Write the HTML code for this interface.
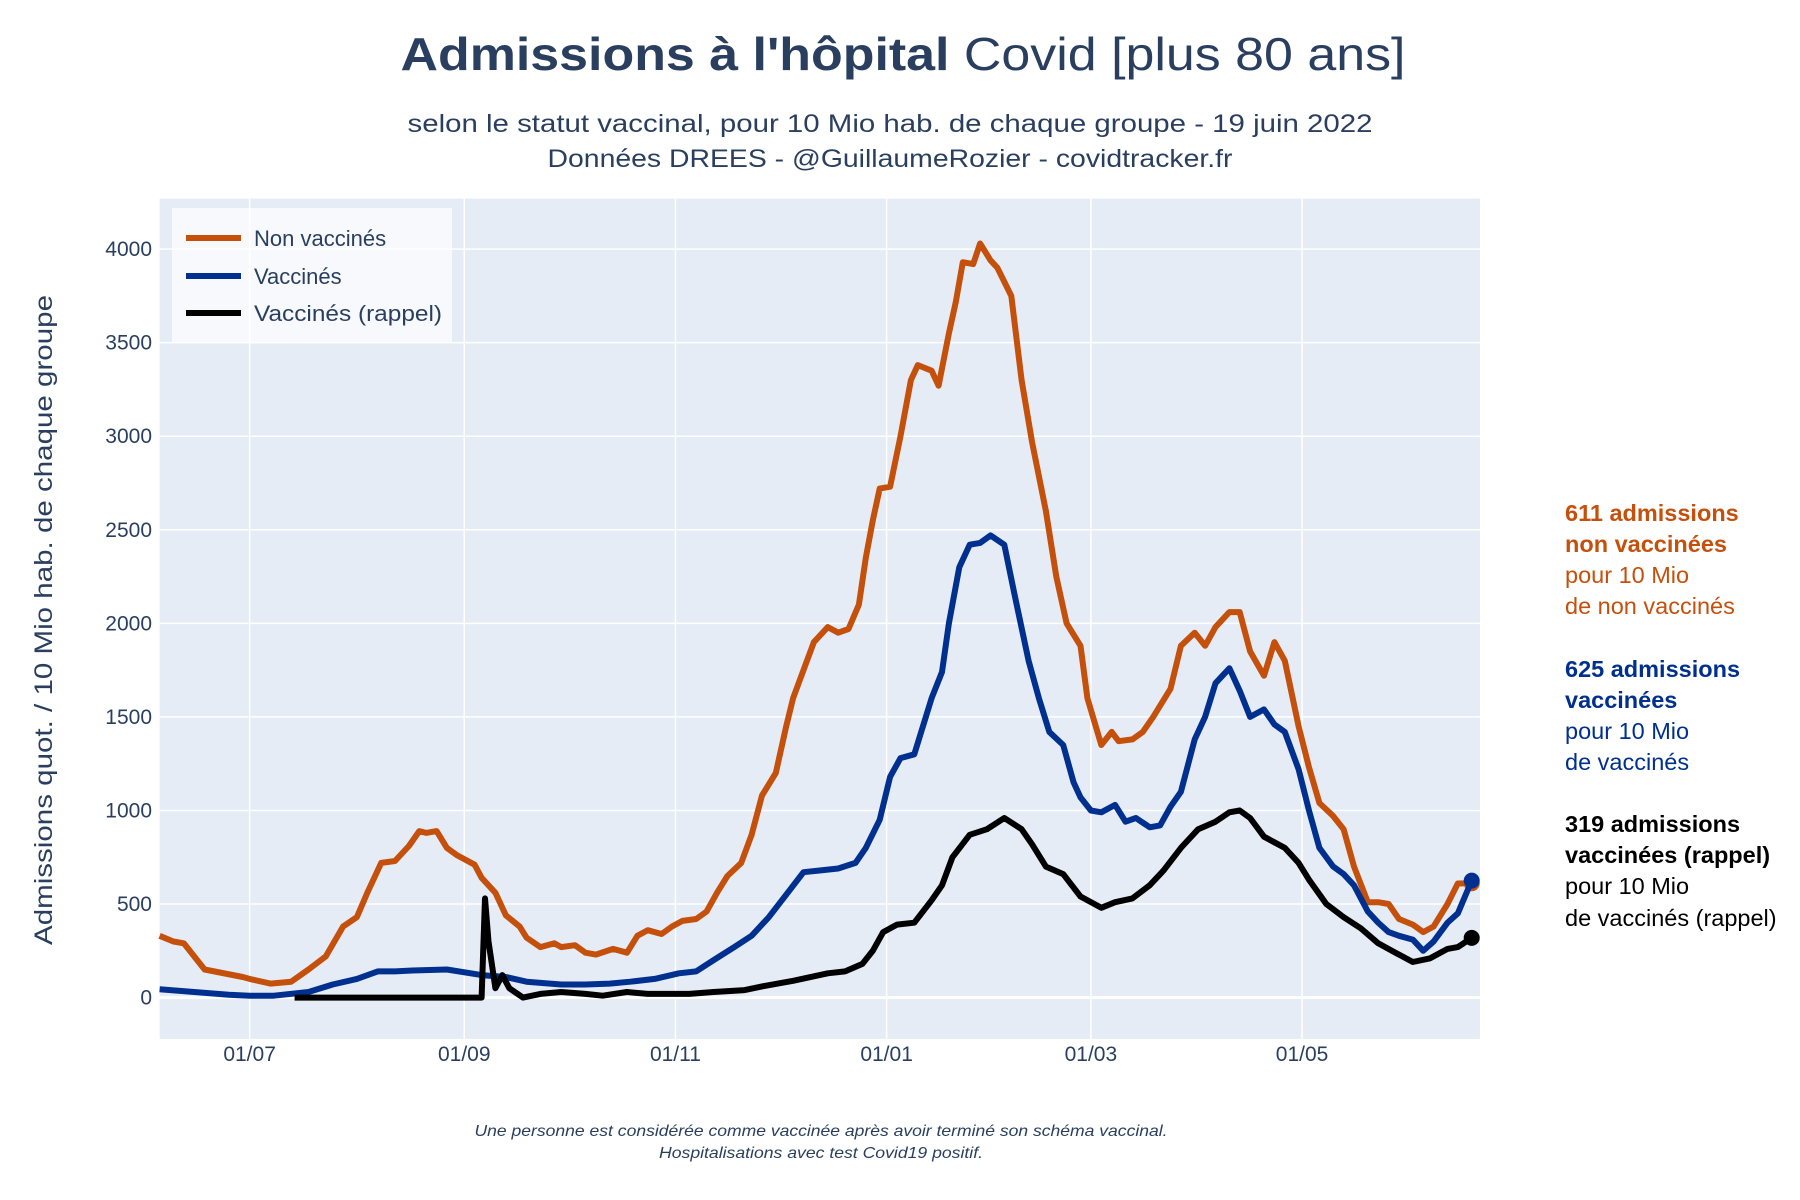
<!DOCTYPE html>
<html><head><meta charset="utf-8">
<style>
html,body{margin:0;padding:0;background:#fff;}
svg{display:block;font-family:"Liberation Sans",sans-serif;}
</style></head>
<body>
<svg id="chart" width="1800" height="1200" viewBox="0 0 1800 1200" xmlns="http://www.w3.org/2000/svg">
<rect width="1800" height="1200" fill="#fff"/>
<text x="903" y="70" text-anchor="middle" font-size="46" fill="#2a3f5f" textLength="1005" lengthAdjust="spacingAndGlyphs"><tspan font-weight="bold">Admissions à l'hôpital</tspan> Covid [plus 80 ans]</text>
<text x="890" y="132" text-anchor="middle" font-size="25" fill="#2a3f5f" textLength="965" lengthAdjust="spacingAndGlyphs">selon le statut vaccinal, pour 10 Mio hab. de chaque groupe - 19 juin 2022</text>
<text x="890" y="167" text-anchor="middle" font-size="25" fill="#2a3f5f" textLength="685" lengthAdjust="spacingAndGlyphs">Données DREES - @GuillaumeRozier - covidtracker.fr</text>
<g id="plot"></g>
<text transform="translate(52,620) rotate(-90)" text-anchor="middle" font-size="25" fill="#2a3f5f" textLength="650" lengthAdjust="spacingAndGlyphs">Admissions quot. / 10 Mio hab. de chaque groupe</text>
<g>
<rect x="172" y="208" width="280" height="134" fill="#fff" fill-opacity="0.7"/>
<line x1="186" y1="238" x2="241" y2="238" stroke="#c5500c" stroke-width="6"/>
<text x="254" y="246" font-size="22" fill="#2a3f5f">Non vaccinés</text>
<line x1="186" y1="276" x2="241" y2="276" stroke="#00308f" stroke-width="6"/>
<text x="254" y="284" font-size="22" fill="#2a3f5f">Vaccinés</text>
<line x1="186" y1="313" x2="241" y2="313" stroke="#000" stroke-width="6"/>
<text x="254" y="321" font-size="22" fill="#2a3f5f" textLength="188" lengthAdjust="spacingAndGlyphs">Vaccinés (rappel)</text>
</g>
<g font-size="23.5" fill="#c5500c">
<text x="1565" y="521" font-weight="bold">611 admissions</text>
<text x="1565" y="552" font-weight="bold">non vaccinées</text>
<text x="1565" y="583">pour 10 Mio</text>
<text x="1565" y="614">de non vaccinés</text>
</g>
<g font-size="23.5" fill="#00308f">
<text x="1565" y="677" font-weight="bold">625 admissions</text>
<text x="1565" y="708" font-weight="bold">vaccinées</text>
<text x="1565" y="739">pour 10 Mio</text>
<text x="1565" y="770">de vaccinés</text>
</g>
<g font-size="23.5" fill="#000">
<text x="1565" y="832" font-weight="bold">319 admissions</text>
<text x="1565" y="863" font-weight="bold">vaccinées (rappel)</text>
<text x="1565" y="894">pour 10 Mio</text>
<text x="1565" y="926">de vaccinés (rappel)</text>
</g>
<g font-size="16" font-style="italic" fill="#2a3f5f" text-anchor="middle">
<text x="821" y="1136" textLength="693" lengthAdjust="spacingAndGlyphs">Une personne est considérée comme vaccinée après avoir terminé son schéma vaccinal.</text>
<text x="821" y="1158" textLength="324" lengthAdjust="spacingAndGlyphs">Hospitalisations avec test Covid19 positif.</text>
</g>
</svg>
<script>
// day offsets from 2021-06-05
const xTickDays = [26, 88, 149, 210, 269, 330];
const xTickLabels = ["01/07", "01/09", "01/11", "01/01", "01/03", "01/05"];
const yTicks = [0, 500, 1000, 1500, 2000, 2500, 3000, 3500, 4000];
const nonVaxDays = [0,4,7,13,24,26,32,38,43,48,53,57,60,64,68,72,75,77,80,83,86,91,93,97,100,104,106,110,114,116,120,123,126,131,135,138,141,145,148,151,155,158,161,164,168,171,174,178,181,183,186,189,193,196,199,202,204,206,208,211,214,217,219,223,225,228,230,232,235,237,240,242,246,249,252,256,259,262,266,268,272,275,277,281,284,287,292,295,299,302,305,309,312,315,319,322,325,329,332,335,339,342,345,349,352,355,358,362,365,368,372,375,379];
const nonVaxValues = [330,300,290,150,110,100,75,85,150,220,380,430,560,720,730,810,890,880,890,800,760,710,640,560,440,380,320,270,290,270,280,240,230,260,240,330,360,340,380,410,420,460,560,650,720,870,1080,1200,1450,1600,1750,1900,1980,1950,1970,2100,2350,2550,2720,2730,3000,3300,3380,3350,3270,3550,3720,3930,3920,4030,3940,3900,3750,3300,2970,2600,2250,2000,1880,1600,1350,1420,1370,1380,1420,1500,1650,1880,1950,1880,1980,2060,2060,1850,1720,1900,1800,1450,1230,1040,970,900,700,510,510,500,420,390,350,380,500,610,611];
const vaxDays = [0,20,26,33,43,50,57,63,68,73,83,93,100,106,116,123,130,136,143,150,155,160,166,171,176,181,186,191,196,201,204,208,211,214,218,223,226,228,231,234,237,240,244,247,251,254,257,261,264,266,269,272,276,279,282,286,289,292,295,299,302,305,309,312,315,319,322,325,329,332,335,339,342,345,349,352,355,358,362,365,368,372,375,379];
const vaxValues = [45,15,10,10,30,70,100,140,140,145,150,120,110,85,70,70,75,85,100,130,140,200,270,330,430,550,670,680,690,720,800,950,1180,1280,1300,1600,1740,2000,2300,2420,2430,2470,2420,2150,1800,1600,1420,1350,1150,1070,1000,990,1030,940,960,910,920,1020,1100,1380,1500,1680,1760,1640,1500,1540,1460,1420,1220,1000,800,700,660,600,460,400,350,330,310,250,300,400,450,625];
const boostDays = [39,93,94,95,97,99,101,105,110,116,123,128,135,141,153,160,169,174,183,193,198,203,206,209,213,218,223,226,229,234,239,244,249,252,256,261,266,272,276,281,286,290,295,300,305,309,312,315,319,322,325,329,332,337,342,347,352,357,362,367,372,375,379];
const boostValues = [0,0,530,300,50,120,50,0,20,30,20,10,30,20,20,30,40,60,90,130,140,180,250,350,390,400,520,600,750,870,900,960,900,820,700,660,540,480,510,530,600,680,800,900,940,990,1000,960,860,830,800,720,630,500,430,370,290,240,190,210,260,270,319];

const PL = 159.6, PR = 1480, PT = 198.6, PB = 1038.9;
const xS = d => PL + d * 3.462;
const yS = v => 997.6 - v * 0.18713;
const NS = "http://www.w3.org/2000/svg";
const plot = document.getElementById('plot');
function mk(tag, attrs, parent) {
  const e = document.createElementNS(NS, tag);
  for (const k in attrs) e.setAttribute(k, attrs[k]);
  (parent || plot).appendChild(e);
  return e;
}
const bg = mk('rect', {x: PL, y: PT, width: PR - PL, height: PB - PT, fill: '#e5ecf6'});


yTicks.forEach(v => {
  const g = mk('line', {x1: PL, x2: PR, y1: yS(v), y2: yS(v), stroke: '#fff', 'stroke-width': v === 0 ? 3 : 1.5});
  
  
  const t = mk('text', {x: 152, y: yS(v) + 7, 'text-anchor': 'end', 'font-size': 21, fill: '#2a3f5f'});
  t.textContent = v;
  
  
});
xTickDays.forEach((d, i) => {
  const g = mk('line', {x1: xS(d), x2: xS(d), y1: PT, y2: PB, stroke: '#fff', 'stroke-width': 1.5});
  
  
  const t = mk('text', {x: xS(d), y: 1061, 'text-anchor': 'middle', 'font-size': 21, fill: '#2a3f5f'});
  t.textContent = xTickLabels[i];
  
  
});
function series(days, vals, color, name) {
  const pts = days.map((d, i) => xS(d).toFixed(1) + ',' + yS(vals[i]).toFixed(1)).join(' ');
  const p = mk('polyline', {points: pts, fill: 'none', stroke: color, 'stroke-width': 6, 'stroke-linejoin': 'round'});
  
  
  const n = days.length - 1;
  const c = mk('circle', {cx: xS(days[n]), cy: yS(vals[n]), r: 8, fill: color});
  
  
}
series(nonVaxDays, nonVaxValues, '#c5500c', 'non-vaccines');
series(vaxDays, vaxValues, '#00308f', 'vaccines');
series(boostDays, boostValues, '#000000', 'rappel');
</script>
</body></html>
